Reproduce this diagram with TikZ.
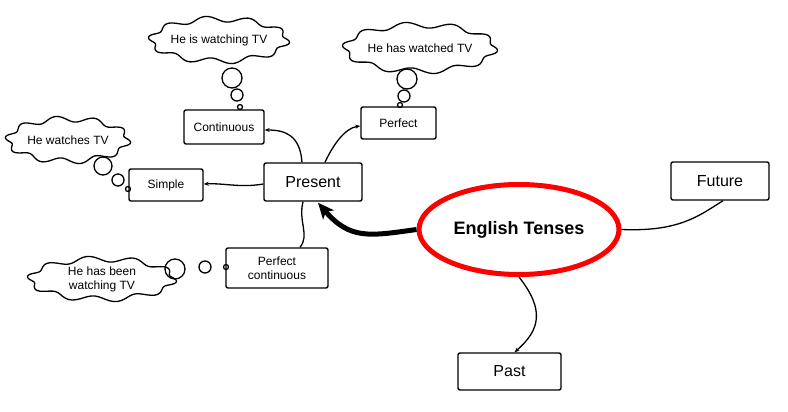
\documentclass[tikz,border=0pt]{standalone}
\usepackage{fontspec}
\setmainfont{Liberation Sans}
\usetikzlibrary{shapes.geometric,arrows.meta,calc}
\newcommand\mycloud[5]{% name, cx, cy, rx, ry
  \draw[line width=1.3pt,fill=white] plot[domain=0:357,samples=120,smooth cycle]
    ({#2+(#4+3*sin(10*\x+20))*cos(\x)},{#3+(#5+3*sin(10*\x+20))*sin(\x)});
  \coordinate (#1) at (#2,#3);}
\begin{document}
\begin{tikzpicture}[x=1pt,y=-1pt,
  box/.style={draw,line width=1.4pt,rounded corners=2pt,inner sep=0pt,font=\fontsize{12}{14}\selectfont,align=center},
  bigbox/.style={box,font=\fontsize{16}{18}\selectfont},
  ctext/.style={font=\fontsize{12}{14}\selectfont,align=center,inner sep=0pt},
  bub/.style={draw,line width=1.3pt,circle,inner sep=0pt},
  conn/.style={line width=1.3pt,-{Stealth[length=5pt,width=4pt]}},
  plain/.style={line width=1.3pt}]
\useasboundingbox (0,0) rectangle (788,412);
% main nodes
\node[ellipse,draw=red,line width=5pt,minimum width=200pt,minimum height=90pt,font=\fontsize{18}{20}\selectfont\bfseries] (et) at (519,229.5) {English Tenses};
\node[bigbox,minimum width=98pt,minimum height=38pt] (present) at (313,182) {Present};
\node[bigbox,minimum width=98pt,minimum height=38pt] (future) at (720,181) {Future};
\node[bigbox,minimum width=103pt,minimum height=37pt] (past) at (509.5,371.5) {Past};
\node[box,minimum width=74pt,minimum height=32pt] (simple) at (166,185) {Simple};
\node[box,minimum width=80pt,minimum height=34pt] (cont) at (224,127) {Continuous};
\node[box,minimum width=75pt,minimum height=32pt] (perf) at (398.5,123) {Perfect};
\node[box,minimum width=102pt,minimum height=40pt] (pcont) at (277,268) {Perfect\\continuous};
% clouds
\mycloud{c1}{219}{40}{68}{21}
\node[ctext] (t1) at (c1) {He is watching TV};
\mycloud{c2}{420}{48}{75}{23}
\node[ctext] (t2) at (c2) {He has watched TV};
\mycloud{c3}{68}{140}{60}{21}
\node[ctext] (t3) at (c3) {He watches TV};
\mycloud{c4}{102}{279}{72}{20}
\node[ctext] (t4) at (c4) {He has been\\watching TV};
% bubbles
\node[bub,minimum size=20pt] (b1a) at (232,78) {};
\node[bub,minimum size=12pt] (b1b) at (237,95) {};
\node[bub,minimum size=5pt] (b1c) at (240,107) {};
\node[bub,minimum size=20pt] (b2a) at (407,79) {};
\node[bub,minimum size=12pt] (b2b) at (404,96) {};
\node[bub,minimum size=5pt] (b2c) at (400,105) {};
\node[bub,minimum size=18pt] (b3a) at (103,166) {};
\node[bub,minimum size=12pt] (b3b) at (118,180) {};
\node[bub,minimum size=5pt] (b3c) at (128,189) {};
\node[bub,minimum size=20pt] (b4a) at (175,269) {};
\node[bub,minimum size=12pt] (b4b) at (205,267) {};
\node[bub,minimum size=5pt] (b4c) at (226,267) {};
% connectors
\draw[line width=5pt,-{Stealth[length=16pt,width=14pt,inset=4pt]}] (et.west) .. controls (370,236) and (350,240) .. ($(present.south)+(5,1)$);
\draw[conn] ($(present.north)+(-11,0)$) .. controls (300,135) and (285,130) .. ($(cont.east)+(0,3)$);
\draw[conn] ($(present.north)+(12,0)$) .. controls (333,145) and (345,128) .. ($(perf.west)+(0,3)$);
\draw[conn] ($(present.west)+(0,2)$) .. controls (240,188) and (225,183) .. ($(simple.east)+(0,-1)$);
\draw[plain] ($(present.south)+(-10,0)$) .. controls (298,222) and (310,235) .. ($(pcont.north)+(23,0)$);
\draw[plain] (et.east) .. controls (680,232) and (700,215) .. ($(future.south)+(3,0)$);
\draw[conn] ($(et.south)+(0,0)$) .. controls (545,310) and (540,330) .. ($(past.north)+(5,0)$);
\end{tikzpicture}
\end{document}
